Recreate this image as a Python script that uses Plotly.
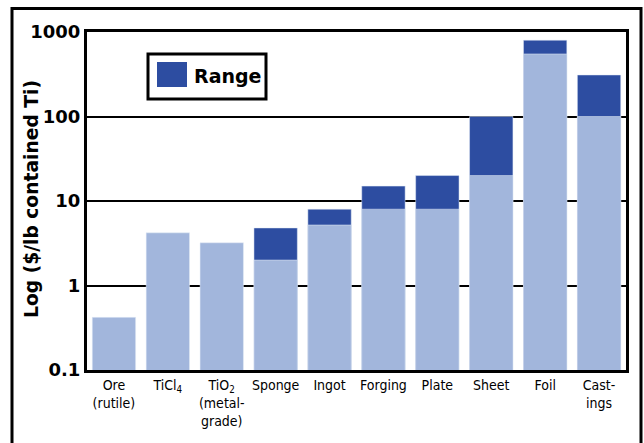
import plotly.graph_objects as go

# Titanium product stages and cost per pound of contained Ti
categories = ["Ore<br>(rutile)", "TiCl<sub>4</sub>", "TiO<sub>2</sub><br>(metal-<br>grade)",
              "Sponge", "Ingot", "Forging", "Plate", "Sheet", "Foil", "Cast-<br>ings"]
low_cost = [0.42, 4.2, 3.2, 2.0, 5.2, 8.0, 8.0, 20.0, 550.0, 100.0]
high_cost = [None, None, None, 4.8, 8.0, 15.0, 20.0, 100.0, 800.0, 310.0]

tick_vals = [0.1, 1, 10, 100, 1000]
tick_text = ["0.1", "1", "10", "100", "1000"]

LIGHT = "#A2B6DC"
DARK = "#2D4DA1"

W, H = 644, 443
ML, MR, MT, MB = 87, 18, 32, 73
PW, PH = W - ML - MR, H - MT - MB


def px(x):
    return (x - ML) / PW


def py(y):
    return (H - MB - y) / PH


fig = go.Figure()
fig.add_trace(go.Bar(x=categories, y=high_cost, marker_color=DARK,
                     name="Range", showlegend=False))
fig.add_trace(go.Bar(x=categories, y=low_cost, marker_color=LIGHT,
                     showlegend=False))

shapes = [
    # outer frame
    dict(type="rect", xref="paper", yref="paper",
         x0=px(12), x1=px(641), y0=py(447), y1=py(8.5),
         line=dict(color="black", width=3)),
    # legend box
    dict(type="rect", xref="paper", yref="paper",
         x0=px(148), x1=px(266), y0=py(99), y1=py(54),
         line=dict(color="black", width=3), fillcolor="white"),
    dict(type="rect", xref="paper", yref="paper",
         x0=px(157), x1=px(187), y0=py(87), y1=py(62),
         line=dict(width=0), fillcolor=DARK),
]

annotations = [
    dict(text="Range", xref="paper", yref="paper", x=px(192), y=py(76.5),
         xanchor="left", yanchor="middle", showarrow=False,
         font=dict(family="DejaVu Sans", size=19, color="black", weight="bold")),
    dict(text="Log ($/lb contained Ti)", xref="paper", yref="paper",
         x=px(31), y=py(199), textangle=-90, xanchor="center", yanchor="middle",
         showarrow=False,
         font=dict(family="DejaVu Sans", size=18.7, color="black", weight="bold")),
]

fig.update_layout(
    width=W, height=H,
    margin=dict(l=ML, r=MR, t=MT, b=MB, pad=0),
    paper_bgcolor="white", plot_bgcolor="white",
    barmode="overlay", bargap=0.195,
    shapes=shapes, annotations=annotations,
    showlegend=False,
)
fig.update_xaxes(
    showline=True, linecolor="black", linewidth=3, mirror=True,
    showgrid=False, ticks="",
    tickfont=dict(family="DejaVu Sans Condensed", size=14, color="black"),
)
fig.update_yaxes(
    type="log", range=[-1, 3],
    showline=True, linecolor="black", linewidth=3, mirror=True,
    showgrid=True, gridcolor="black", gridwidth=2,
    tickvals=tick_vals, ticktext=tick_text, ticks="",
    tickfont=dict(family="DejaVu Sans", size=18, color="black", weight="bold"),
)

fig.write_html("out.html")
